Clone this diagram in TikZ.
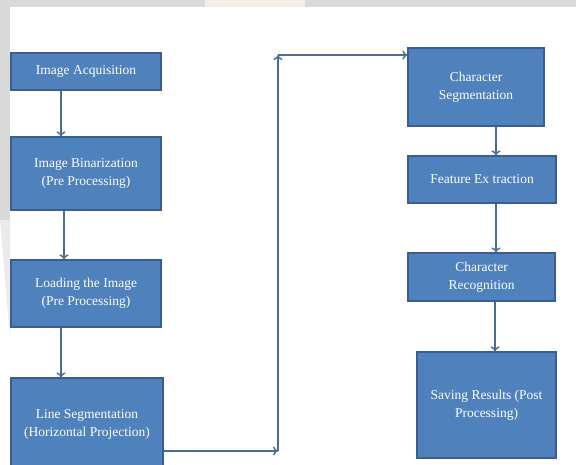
\documentclass[tikz,border=0pt]{standalone}
\usepackage{fontspec}
\setmainfont{Liberation Serif}
\usetikzlibrary{arrows.meta}
\definecolor{boxfill}{HTML}{4F81BD}
\definecolor{boxline}{HTML}{3A5F8E}
\definecolor{arrcol}{HTML}{4A6C98}
\definecolor{bggray}{HTML}{D9D9D9}
\definecolor{bgpink}{HTML}{F7EDE6}
\tikzset{
  blk/.style={draw=boxline, line width=1.2pt, fill=boxfill, text=white, align=center,
    font=\fontsize{13.5}{18}\selectfont, inner sep=2pt},
  arr/.style={draw=arrcol, line width=1.4pt, -{To[length=5pt,width=9pt]}}
}
\begin{document}
\begin{tikzpicture}[x=1pt,y=-1pt]
\useasboundingbox (0,0) rectangle (576,464);
\fill[white] (0,0) rectangle (576,464);
% background strips
\fill[bggray] (0,0) rectangle (576,7);
\fill[bgpink] (205,0) rectangle (305,7);
\fill[bggray] (0,0) rectangle (10,220);
\fill[bggray!55] (0,220) -- (10,220) -- (10,338) -- cycle;
% boxes
\node[blk, minimum width=150pt, minimum height=37pt] (acq) at (86,71.5) {Image Acquisition};
\node[blk, minimum width=150pt, minimum height=73pt] (bin) at (86,173.5) {Image Binarization\\(Pre Processing)};
\node[blk, minimum width=150pt, minimum height=67pt] (load) at (86,293.5) {Loading the Image\\(Pre Processing)};
\node[blk, minimum width=152pt, minimum height=92pt] (ls) at (87,424) {Line Segmentation\\(Horizontal Projection)};
\node[blk, minimum width=136pt, minimum height=78pt] (cs) at (476,87) {Character\\Segmentation};
\node[blk, minimum width=148pt, minimum height=47pt] (fe) at (482,179.5) {Feature Ex traction};
\node[blk, minimum width=147pt, minimum height=48pt] (cr) at (481.5,277) {Character\\Recognition};
\node[blk, minimum width=139pt, minimum height=106pt] (sr) at (486.5,405) {Saving Results (Post\\Processing)};
% connector points
\coordinate (c1) at (278,451);
\coordinate (c2) at (278,55);
% arrows
\draw[arr] (acq.south -| 61,0) -- (bin.north -| 61,0);
\draw[arr] (bin.south -| 64,0) -- (load.north -| 64,0);
\draw[arr] (load.south -| 61,0) -- (ls.north -| 61,0);
\draw[arr] (ls.east |- c1) -- (c1);
\draw[arr] (c1) -- (c2);
\draw[arr] (c2) -- (cs.west |- c2);
\draw[arr] (cs.south -| 496,0) -- (fe.north -| 496,0);
\draw[arr] (fe.south -| 496,0) -- (cr.north -| 496,0);
\draw[arr] (cr.south -| 495,0) -- (sr.north -| 495,0);
\end{tikzpicture}
\end{document}
